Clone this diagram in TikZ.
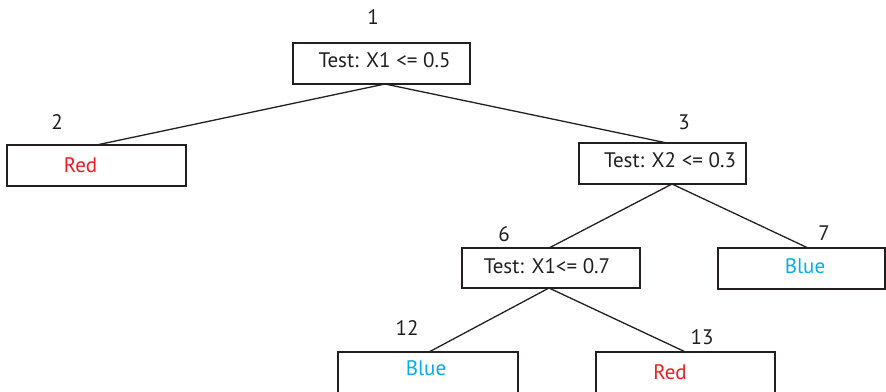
\documentclass[tikz,border=0pt]{standalone}
\usepackage{fontspec}
\setmainfont{PT Sans}
\definecolor{tred}{RGB}{237,28,36}
\definecolor{tblue}{RGB}{0,174,239}
\definecolor{ink}{RGB}{35,31,32}
\begin{document}
\begin{tikzpicture}[x=1pt,y=-1pt,
  box/.style={draw=ink,line width=1.4pt,inner sep=0pt,outer sep=0pt},
  txt/.style={font=\fontsize{21}{24}\selectfont,inner sep=0pt,text=ink},
  edge/.style={draw=ink,line width=1.3pt}]
\clip (0,0) rectangle (886,391);
\useasboundingbox (0,0) rectangle (886,391);
% boxes
\node[box,minimum width=177pt,minimum height=41pt] (n1) at (381.5,63.5) {};
\node[box,minimum width=179pt,minimum height=41pt] (n2) at (96.5,165.5) {};
\node[box,minimum width=167pt,minimum height=41pt] (n3) at (662.5,163.5) {};
\node[box,minimum width=178pt,minimum height=40pt] (n6) at (551,268) {};
\node[box,minimum width=167pt,minimum height=41pt] (n7) at (801.5,268.5) {};
\node[box,minimum width=180pt,minimum height=41pt] (n12) at (428,372.5) {};
\node[box,minimum width=179pt,minimum height=41pt] (n13) at (685.5,372.5) {};
% texts
\node[txt] (t1) at (384.5,60) {Test: X1 <= 0.5};
\node[txt,text=tred] (t2) at (80.5,165) {Red};
\node[txt] (t3) at (670,160) {Test: X2 <= 0.3};
\node[txt] (t6) at (547,266) {Test: X1<= 0.7};
\node[txt,text=tblue] (t7) at (805,266) {Blue};
\node[txt,text=tblue] (t12) at (426,368) {Blue};
\node[txt,text=tred] (t13) at (670,372) {Red};
% numbers
\node[txt] (l1) at (373,17) {1};
\node[txt] (l2) at (57,122) {2};
\node[txt] (l3) at (684,122) {3};
\node[txt] (l6) at (504,234) {6};
\node[txt] (l7) at (824,233) {7};
\node[txt] (l12) at (407,328) {12};
\node[txt] (l13) at (702,337) {13};
% edges
\draw[edge] ([xshift=3.5pt]n1.south) -- (n2.north);
\draw[edge] ([xshift=3.5pt]n1.south) -- ([xshift=4.5pt]n3.north);
\draw[edge] ([xshift=9.5pt]n3.south) -- ([xshift=-2pt]n6.north);
\draw[edge] ([xshift=9.5pt]n3.south) -- ([xshift=6.5pt]n7.north);
\draw[edge] ([xshift=-2pt]n6.south) -- ([xshift=1pt]n12.north);
\draw[edge] ([xshift=-2pt]n6.south) -- (n13.north);
\end{tikzpicture}
\end{document}
